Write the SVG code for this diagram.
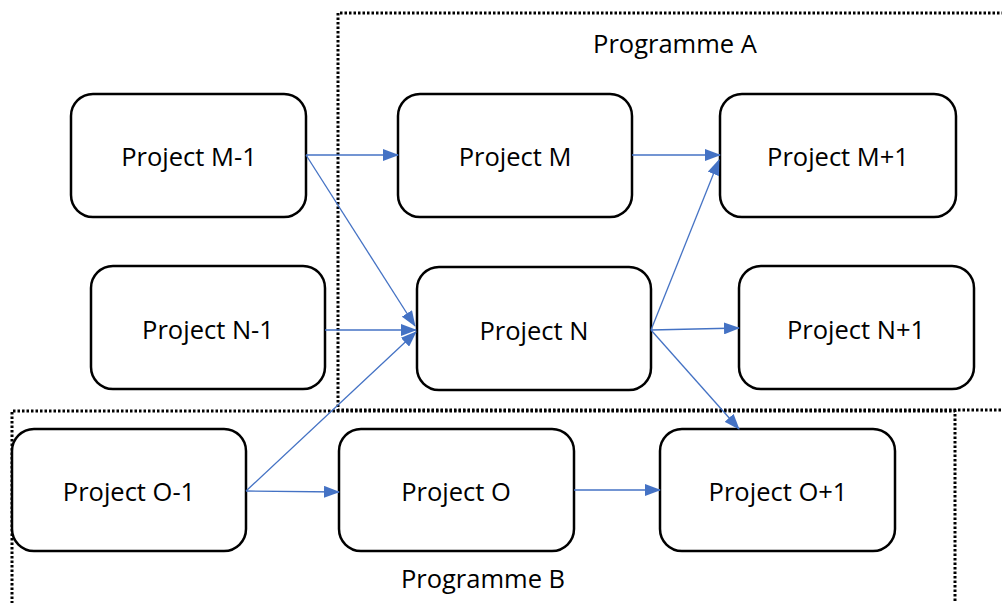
<svg xmlns="http://www.w3.org/2000/svg" width="1002" height="603" viewBox="0 0 1002 603">
  <style>
    .node rect { fill: #ffffff; stroke: #000000; stroke-width: 2.5; }
    .node text, .label { font-family: "Open Sans", "Liberation Sans", sans-serif; font-size: 25.5px; fill: #000000; text-anchor: middle; dominant-baseline: central; }
    .group { fill: none; stroke: #000000; stroke-width: 3; stroke-dasharray: 2.5 2; }
    .link { fill: none; stroke: #4472C4; stroke-width: 1.3; marker-end: url(#arrow); }
  </style>
  <defs>
    <marker id="arrow" markerUnits="userSpaceOnUse" markerWidth="16" markerHeight="12" refX="15" refY="6" orient="auto">
      <path d="M0,0 L16,6 L0,12 Z" fill="#4472C4"/>
    </marker>
  </defs>

  <rect width="1002" height="603" fill="#ffffff"/>

  <!-- Programme boundaries -->
  <g id="programme-a">
    <path class="group" d="M1010,410 L338,410 L338,13 L1010,13"/>
    <text class="label" x="675" y="43">Programme A</text>
  </g>
  <g id="programme-b">
    <path class="group" d="M955,610 L955,411 L12,411 L12,610"/>
    <text class="label" x="483" y="578">Programme B</text>
  </g>

  <!-- Nodes -->
  <g id="project-m-1" class="node"><rect x="71" y="94" width="235" height="123" rx="22"/><text x="189" y="156">Project M-1</text></g>
  <g id="project-m" class="node"><rect x="398" y="94" width="234" height="123" rx="22"/><text x="515" y="156">Project M</text></g>
  <g id="project-m+1" class="node"><rect x="720" y="94" width="236" height="123" rx="22"/><text x="838" y="156">Project M+1</text></g>
  <g id="project-n-1" class="node"><rect x="91" y="266" width="234" height="123" rx="22"/><text x="208" y="329">Project N-1</text></g>
  <g id="project-n" class="node"><rect x="417" y="267" width="234" height="123" rx="22"/><text x="534" y="330">Project N</text></g>
  <g id="project-n+1" class="node"><rect x="739" y="266" width="235" height="123" rx="22"/><text x="856" y="329">Project N+1</text></g>
  <g id="project-o-1" class="node"><rect x="12" y="429" width="234" height="122" rx="22"/><text x="129" y="491">Project O-1</text></g>
  <g id="project-o" class="node"><rect x="339" y="429" width="235" height="122" rx="22"/><text x="456" y="491">Project O</text></g>
  <g id="project-o+1" class="node"><rect x="660" y="429" width="235" height="122" rx="22"/><text x="778" y="491">Project O+1</text></g>

  <!-- Connectors -->
  <g id="connectors">
    <line class="link" x1="306" y1="155" x2="398" y2="155"/>
    <line class="link" x1="306" y1="155" x2="415" y2="326"/>
    <line class="link" x1="325" y1="330" x2="416" y2="330"/>
    <line class="link" x1="246" y1="491" x2="416" y2="332"/>
    <line class="link" x1="246" y1="491" x2="339" y2="492"/>
    <line class="link" x1="632" y1="155" x2="720" y2="155"/>
    <line class="link" x1="651" y1="330" x2="719" y2="160"/>
    <line class="link" x1="651" y1="330" x2="739" y2="328"/>
    <line class="link" x1="651" y1="330" x2="739" y2="429"/>
    <line class="link" x1="574" y1="490" x2="660" y2="490"/>
  </g>
</svg>
